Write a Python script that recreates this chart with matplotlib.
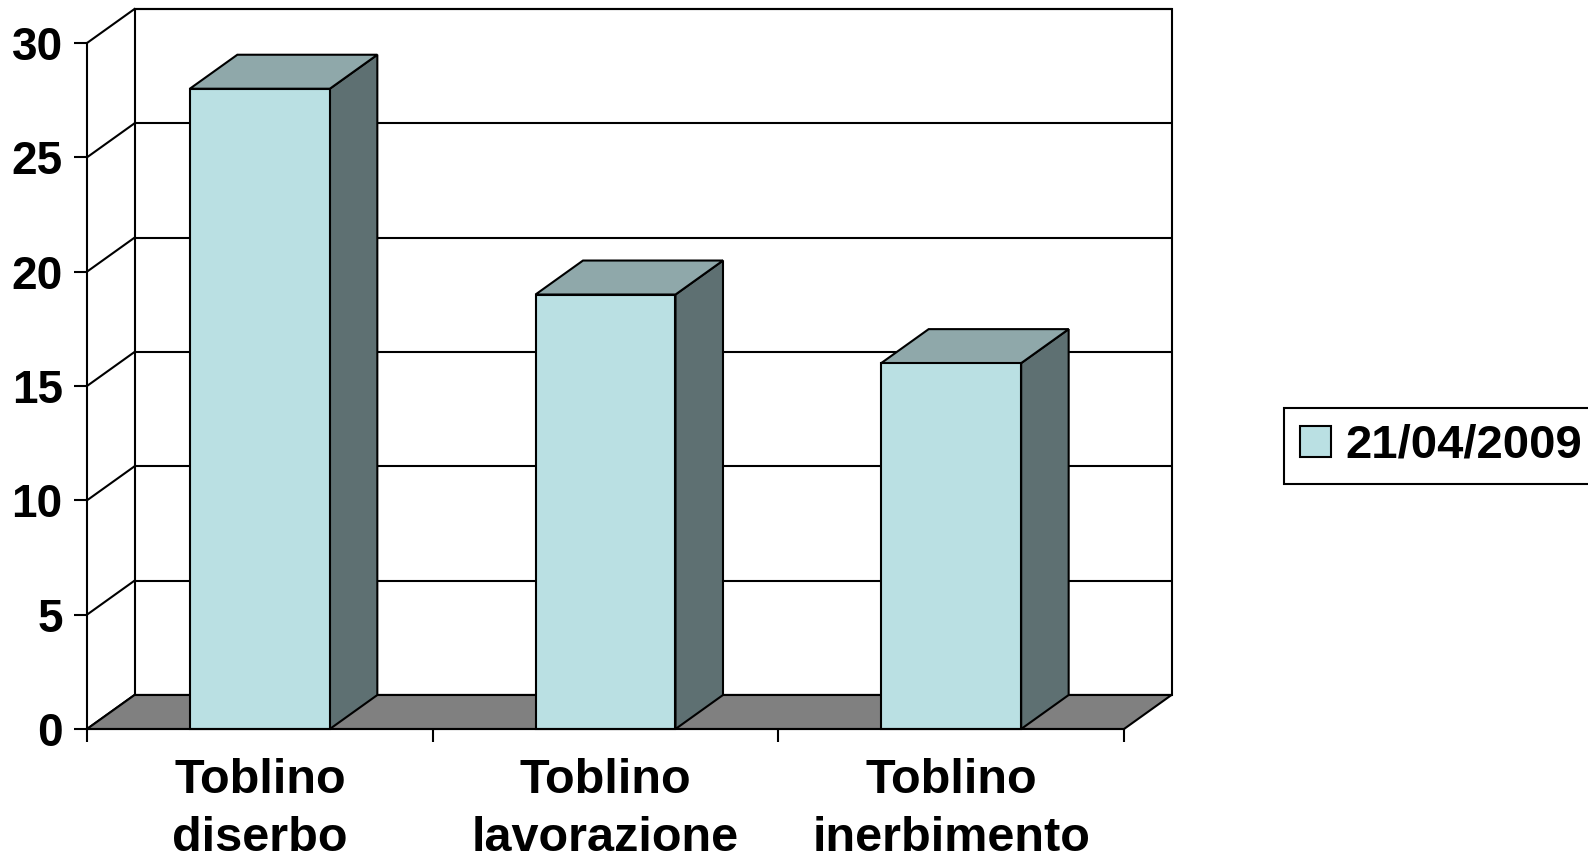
import matplotlib.pyplot as plt
import numpy as np
from matplotlib.patches import Polygon, Rectangle, Patch

plt.rcParams['font.family'] = ['Liberation Sans', 'DejaVu Sans']
plt.rcParams['font.weight'] = 'bold'

# data
categories = ['Toblino\ndiserbo', 'Toblino\nlavorazione', 'Toblino\ninerbimento']
values = [28, 19, 16]
series_name = '21/04/2009'
yticks = [0, 5, 10, 15, 20, 25, 30]

# colours
front_col = '#BAE0E3'
top_col = '#8FA8AA'
side_col = '#5E7072'
floor_col = '#808080'

W, H = 1588, 866
fig = plt.figure(figsize=(W / 100, H / 100), dpi=100)

# front plane of the 3d box, in pixels
x_left, x_right = 87, 1124
y_bot, y_top = 729, 43
ax = fig.add_axes([x_left / W, 1 - y_bot / H, (x_right - x_left) / W, (y_bot - y_top) / H])
ax.set_xlim(0, len(categories))
ax.set_ylim(0, 30)
ax.patch.set_visible(False)

# depth offset in data units
dx = 47.5 / ((x_right - x_left) / len(categories))
dy = 34 / ((y_bot - y_top) / 30)
bar_w = 0.405
lw = 1.5
n = len(categories)

# back wall with gridlines
for v in yticks:
    ax.plot([dx, n + dx], [v + dy, v + dy], color='black', lw=lw, clip_on=False, zorder=1)
    # side wall lines
    ax.plot([0, dx], [v, v + dy], color='black', lw=lw, clip_on=False, zorder=1)
ax.add_patch(Rectangle((dx, dy), n, 30, fill=False, ec='black', lw=lw, clip_on=False, zorder=1))

# floor
ax.add_patch(Polygon([(0, 0), (n, 0), (n + dx, dy), (dx, dy)], closed=True,
                     fc=floor_col, ec='black', lw=lw, clip_on=False, zorder=2))

# bars
for i, h in enumerate(values):
    x0 = i + 0.5 - bar_w / 2
    x1 = i + 0.5 + bar_w / 2
    ax.add_patch(Polygon([(x1, 0), (x1 + dx, dy), (x1 + dx, h + dy), (x1, h)], closed=True,
                         fc=side_col, ec='black', lw=lw, clip_on=False, zorder=3))
    ax.add_patch(Polygon([(x0, h), (x1, h), (x1 + dx, h + dy), (x0 + dx, h + dy)], closed=True,
                         fc=top_col, ec='black', lw=lw, clip_on=False, zorder=3))
    ax.add_patch(Rectangle((x0, 0), x1 - x0, h, fc=front_col, ec='black', lw=lw,
                           clip_on=False, zorder=4))

# axes
for s in ['top', 'right']:
    ax.spines[s].set_visible(False)
for s in ['left', 'bottom']:
    ax.spines[s].set_linewidth(lw)
    ax.spines[s].set_zorder(5)
ax.set_yticks(yticks)
ax.set_yticklabels([str(v) for v in yticks], fontsize=33, fontweight='bold')
ax.tick_params(axis='y', length=9.5, width=lw, pad=8)
ax.set_xticks(np.arange(n + 1))
ax.set_xticklabels([])
ax.tick_params(axis='x', which='major', length=9, width=lw)
ax.set_xticks(np.arange(n) + 0.5, minor=True)
ax.set_xticklabels(categories, minor=True, fontsize=35, fontweight='bold', linespacing=1.36)
ax.tick_params(axis='x', which='minor', length=0, pad=21)

# legend
leg = fig.legend(handles=[Patch(fc=front_col, ec='black', lw=1.5, label=series_name)],
                 loc='center left', bbox_to_anchor=(1284 / W, 1 - 446 / H),
                 borderaxespad=0, fancybox=False, framealpha=1, edgecolor='black',
                 handlelength=0.66, handleheight=0.66, handletextpad=0.3,
                 borderpad=0.33, prop={'size': 34, 'weight': 'bold'})
leg.get_frame().set_linewidth(lw)

fig.savefig('out.png', dpi=100)
